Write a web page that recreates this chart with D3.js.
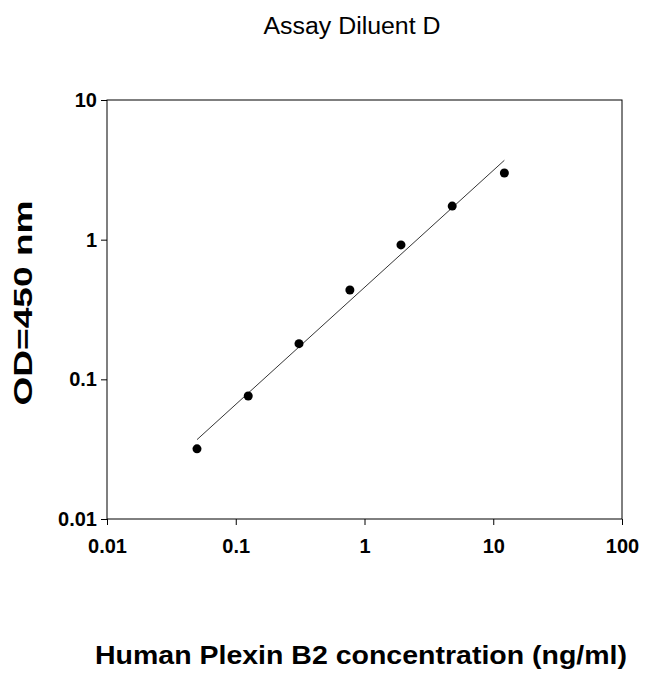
<!DOCTYPE html><html><head><meta charset="utf-8"><script src="https://cdn.jsdelivr.net/npm/d3@7"></script>
<style>body{margin:0;background:#fff}</style></head><body><svg id="c" width="650" height="674"></svg>
<script>
const concentration=[0.05,0.125,0.31,0.77,1.92,4.8,12.2];
const od=[0.0318,0.076,0.18,0.436,0.917,1.74,3.0];
const fitX=[0.05,12.2];
const fitY=[0.037,3.7];
const tickVals=[0.01,0.1,1,10,100];
const tickLabels=["0.01","0.1","1","10","100"];
const yTickVals=[0.01,0.1,1,10];
const yTickLabels=["0.01","0.1","1","10"];
const svg=d3.select("#c");
const F="'Liberation Sans Narrow','Liberation Sans',Arial";
const L=107,R=622,T=100,B=519;
const x=d3.scaleLog().domain([0.01,100]).range([L,R]);
const y=d3.scaleLog().domain([0.01,10]).range([B,T]);
svg.append("rect").attr("x",L).attr("y",T).attr("width",R-L).attr("height",B-T).attr("fill","none").attr("stroke","#000");
const xa=svg.append("g").attr("transform",`translate(0,${B})`).call(d3.axisBottom(x).tickValues(tickVals).tickFormat((d,i)=>tickLabels[i]).tickSize(6).tickSizeOuter(0));
const ya=svg.append("g").attr("transform",`translate(${L},0)`).call(d3.axisLeft(y).tickValues(yTickVals).tickFormat((d,i)=>yTickLabels[i]).tickSize(6).tickSizeOuter(0));
[xa,ya].forEach(a=>{a.attr("font-size",null).attr("font-family",null);a.select(".domain").remove();a.selectAll("text").style("font-family",F).style("font-weight","bold").style("font-size","20px").attr("fill","#000");});
xa.selectAll("text").attr("dy","1.25em");
ya.selectAll("text").attr("x",-10);
svg.append("line").attr("x1",x(fitX[0])).attr("y1",y(fitY[0])).attr("x2",x(fitX[1])).attr("y2",y(fitY[1])).attr("stroke","#000").attr("stroke-width",0.8);
svg.selectAll("circle").data(concentration).join("circle").attr("cx",d=>x(d)).attr("cy",(d,i)=>y(od[i])).attr("r",4.5).attr("fill","#000");
svg.append("text").attr("x",352).attr("y",34).attr("text-anchor","middle").style("font-family",F).style("font-size","23px").attr("textLength",177).attr("lengthAdjust","spacingAndGlyphs").text("Assay Diluent D");
svg.append("text").attr("x",361).attr("y",664).attr("text-anchor","middle").style("font-family",F).style("font-weight","bold").style("font-size","26px").attr("textLength",532).attr("lengthAdjust","spacingAndGlyphs").text("Human Plexin B2 concentration (ng/ml)");
svg.append("text").attr("transform","translate(32,303) rotate(-90)").attr("text-anchor","middle").style("font-family",F).style("font-weight","bold").style("font-size","26px").attr("textLength",205).attr("lengthAdjust","spacingAndGlyphs").text("OD=450 nm");
</script></body></html>
